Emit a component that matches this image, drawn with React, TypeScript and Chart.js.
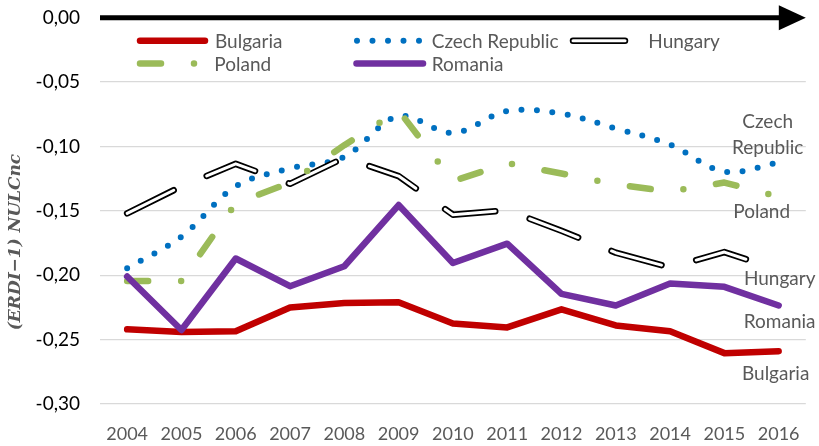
import React, { useEffect, useRef } from "react";
import { Chart, registerables } from "chart.js";

Chart.register(...registerables);

// ---------- data ----------
const years = ["2004", "2005", "2006", "2007", "2008", "2009", "2010", "2011", "2012", "2013", "2014", "2015", "2016"];
const bulgaria = [-0.242, -0.244, -0.2435, -0.225, -0.2215, -0.221, -0.2375, -0.2405, -0.2265, -0.239, -0.2435, -0.2605, -0.259];
const czechRepublic = [-0.1945, -0.17, -0.131, -0.117, -0.108, -0.0765, -0.0895, -0.0725, -0.0745, -0.086, -0.0985, -0.1195, -0.1125];
const hungary = [-0.152, -0.131, -0.1135, -0.129, -0.1087, -0.123, -0.153, -0.1495, -0.1655, -0.1825, -0.194, -0.182, -0.196];
const poland = [-0.2045, -0.2045, -0.1441, -0.1282, -0.099, -0.072, -0.127, -0.113, -0.121, -0.1295, -0.135, -0.128, -0.139];
const romania = [-0.201, -0.2425, -0.187, -0.2085, -0.193, -0.1455, -0.1905, -0.1755, -0.2145, -0.2235, -0.2065, -0.209, -0.2235];
const yTicks = [-0.3, -0.25, -0.2, -0.15, -0.1, -0.05, 0];
const yTickLabels = ["-0,30", "-0,25", "-0,20", "-0,15", "-0,10", "-0,05", "0,00"];
const yTitle = "(ERDI−1) NULCnc";

// ---------- styles ----------
const FONT = "Lato";
const TEXT_GRAY = "#595959";
const RED = "#C00000";
const BLUE = "#0070C0";
const GREEN = "#9BBB59";
const PURPLE = "#7030A0";

type Sample = { color: string; width: number; dash: number[]; inner?: { color: string; width: number } };

const styles: Record<string, Sample> = {
  Bulgaria: { color: RED, width: 6.5, dash: [] },
  "Czech Republic": { color: BLUE, width: 6, dash: [0, 15.5] },
  Hungary: { color: "#000000", width: 6.5, dash: [52, 36], inner: { color: "#ffffff", width: 3 } },
  Poland: { color: GREEN, width: 6.5, dash: [21, 33, 0, 33] },
  Romania: { color: PURPLE, width: 6.5, dash: [] },
};

// end labels (text lines and offsets relative to last point, baseline)
const endLabels = [
  { series: "Czech Republic", lines: ["Czech", "Republic"], dx: -11, dy: -34.5, lh: 25.7 },
  { series: "Poland", lines: ["Poland"], dx: -17, dy: 21.7, lh: 0 },
  { series: "Hungary", lines: ["Hungary"], dx: 1, dy: 15, lh: 0 },
  { series: "Romania", lines: ["Romania"], dx: 1, dy: 22.7, lh: 0 },
  { series: "Bulgaria", lines: ["Bulgaria"], dx: -3, dy: 28.3, lh: 0 },
];

// legend layout
const legendItems = [
  { series: "Bulgaria", x0: 140, x1: 205, tx: 215, y: 40.7 },
  { series: "Czech Republic", x0: 357, x1: 421, tx: 431.7, y: 40.7 },
  { series: "Hungary", x0: 573, x1: 628.5, tx: 648.3, y: 40.7 },
  { series: "Poland", x0: 140, x1: 206, tx: 214.3, y: 63.5 },
  { series: "Romania", x0: 356.5, x1: 423, tx: 431.7, y: 63.5 },
];

function strokeSample(ctx: CanvasRenderingContext2D, s: Sample, x0: number, x1: number, y: number) {
  ctx.save();
  ctx.lineCap = "round";
  ctx.lineJoin = "round";
  ctx.strokeStyle = s.color;
  ctx.lineWidth = s.width;
  ctx.setLineDash(s.dash);
  ctx.beginPath();
  ctx.moveTo(x0, y);
  ctx.lineTo(x1, y);
  ctx.stroke();
  if (s.inner) {
    ctx.strokeStyle = s.inner.color;
    ctx.lineWidth = s.inner.width;
    ctx.beginPath();
    ctx.moveTo(x0, y);
    ctx.lineTo(x1, y);
    ctx.stroke();
  }
  ctx.restore();
}

const decorPlugin = {
  id: "decor",
  beforeDatasetsDraw(chart: any) {
    const ctx: CanvasRenderingContext2D = chart.ctx;
    const area = chart.chartArea;
    const y0 = chart.scales.y.getPixelForValue(0);
    ctx.save();
    ctx.strokeStyle = "#000";
    ctx.lineWidth = 5;
    ctx.beginPath();
    ctx.moveTo(area.left, y0);
    ctx.lineTo(area.right - 25, y0);
    ctx.stroke();
    ctx.fillStyle = "#000";
    ctx.beginPath();
    ctx.moveTo(area.right - 27, y0 - 12.5);
    ctx.lineTo(area.right, y0);
    ctx.lineTo(area.right - 27, y0 + 12.5);
    ctx.closePath();
    ctx.fill();
    ctx.restore();
  },
  afterDatasetsDraw(chart: any) {
    const ctx: CanvasRenderingContext2D = chart.ctx;
    ctx.save();
    // legend
    ctx.font = `19px ${FONT}`;
    ctx.fillStyle = TEXT_GRAY;
    ctx.textBaseline = "middle";
    ctx.textAlign = "left";
    legendItems.forEach((it) => {
      strokeSample(ctx, styles[it.series], it.x0, it.x1, it.y);
      ctx.fillStyle = TEXT_GRAY;
      ctx.fillText(it.series, it.tx, it.y + 1);
    });
    // end labels
    ctx.textBaseline = "alphabetic";
    ctx.textAlign = "center";
    endLabels.forEach((lb) => {
      const idx = chart.data.datasets.findIndex((d: any) => d.label === lb.series);
      const meta = chart.getDatasetMeta(idx);
      const pt = meta.data[meta.data.length - 1];
      lb.lines.forEach((t, i) => {
        ctx.fillText(t, pt.x + lb.dx, pt.y + lb.dy + i * lb.lh);
      });
    });
    ctx.restore();
    // y title
    ctx.save();
    ctx.font = `bold italic 17px "DejaVu Serif"`;
    ctx.fillStyle = TEXT_GRAY;
    ctx.translate(16, 242);
    ctx.rotate(-Math.PI / 2);
    ctx.textAlign = "center";
    ctx.textBaseline = "middle";
    ctx.fillText(yTitle, 0, 0);
    ctx.restore();
  },
};

function ds(label: string, data: number[], order: number, extra: any = {}) {
  const s = styles[label];
  return {
    label,
    data,
    order,
    borderColor: s.color,
    borderWidth: s.width,
    borderDash: s.dash,
    borderCapStyle: "round",
    borderJoinStyle: "round",
    pointRadius: 0,
    fill: false,
    tension: 0,
    ...extra,
  };
}

export default function App() {
  const ref = useRef<HTMLCanvasElement>(null);
  useEffect(() => {
    const chart = new Chart(ref.current as HTMLCanvasElement, {
      type: "line",
      data: {
        labels: years,
        datasets: [
          ds("Bulgaria", bulgaria, 6),
          ds("Czech Republic", czechRepublic, 5, { tension: 0.35 }),
          ds("Hungary", hungary, 4),
          {
            label: "Hungary inner",
            data: hungary,
            order: 3,
            borderColor: "#ffffff",
            borderWidth: 3,
            borderDash: styles.Hungary.dash,
            borderCapStyle: "round",
            borderJoinStyle: "round",
            pointRadius: 0,
            fill: false,
            tension: 0,
          },
          ds("Poland", poland, 2),
          ds("Romania", romania, 1),
        ] as any,
      },
      options: {
        animation: false,
        responsive: true,
        maintainAspectRatio: false,
        layout: { padding: { top: 17.7, right: 12, left: 0, bottom: 0 } },
        plugins: {
          legend: { display: false },
          tooltip: { enabled: false },
          title: { display: false },
        },
        scales: {
          x: {
            type: "category",
            offset: true,
            grid: { display: false, drawTicks: false },
            border: { display: false },
            ticks: {
              color: TEXT_GRAY,
              font: { family: FONT, size: 18 },
              padding: 19,
              maxRotation: 0,
              autoSkip: false,
            },
            afterFit: (s: any) => {
              s.height = 42;
            },
          },
          y: {
            min: -0.3,
            max: 0,
            afterBuildTicks: (s: any) => {
              s.ticks = yTicks.map((v) => ({ value: v }));
            },
            ticks: {
              color: "#000",
              font: { family: FONT, size: 19 },
              padding: 20,
              callback: (v: any) => {
                const i = yTicks.findIndex((t) => Math.abs(t - Number(v)) < 1e-9);
                return i >= 0 ? yTickLabels[i] : "";
              },
            },
            grid: {
              color: (c: any) => (c.tick && Math.abs(c.tick.value) < 1e-9 ? "rgba(0,0,0,0)" : "#d9d9d9"),
              lineWidth: 1.3,
              drawTicks: false,
            },
            border: { display: false },
            afterFit: (s: any) => {
              s.width = 100;
              s.paddingTop = 0;
              s.paddingBottom = 0;
            },
          },
        },
      } as any,
      plugins: [decorPlugin],
    });
    return () => chart.destroy();
  }, []);
  return (
    <div style={{ position: "fixed", left: 0, top: 0, width: 819, height: 446, background: "#fff" }}>
      <canvas ref={ref} />
    </div>
  );
}
